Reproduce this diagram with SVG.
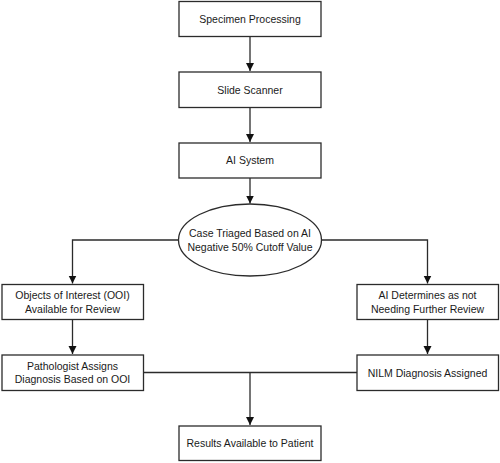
<svg xmlns="http://www.w3.org/2000/svg" width="500" height="463" viewBox="0 0 500 463">
<style>
.box{fill:#fff;stroke:#2b2b2b;stroke-width:1.3}
.t{font-family:"Liberation Sans",Arial,sans-serif;font-size:10.5px;fill:#1a1a1a;text-anchor:middle}
.c{fill:none;stroke:#2b2b2b;stroke-width:1.3}
</style>
<defs>
<marker id="ah" markerUnits="userSpaceOnUse" markerWidth="9" markerHeight="9" refX="8" refY="4" orient="auto">
<path d="M0,0 L8,4 L0,8 Z" fill="#111"/>
</marker>
</defs>
<rect width="500" height="463" fill="#fff"/>
<g id="connectors">
<path class="c" d="M250,37 V71" marker-end="url(#ah)"/>
<path class="c" d="M250,108 V142" marker-end="url(#ah)"/>
<path class="c" d="M250,178 V203.5" marker-end="url(#ah)"/>
<path class="c" d="M178.5,240 H72.5 V283.5" marker-end="url(#ah)"/>
<path class="c" d="M321.5,240 H427.5 V283.5" marker-end="url(#ah)"/>
<path class="c" d="M72.5,320 V354" marker-end="url(#ah)"/>
<path class="c" d="M427.5,320 V354" marker-end="url(#ah)"/>
<path class="c" d="M143.5,372.5 H357"/>
<path class="c" d="M250,372.5 V425" marker-end="url(#ah)"/>
</g>
<g id="specimen">
<rect class="box" x="179" y="1.5" width="142" height="35"/>
<text class="t" x="250" y="22.8">Specimen Processing</text>
</g>
<g id="scanner">
<rect class="box" x="179" y="72" width="142" height="35.5"/>
<text class="t" x="250" y="93.6">Slide Scanner</text>
</g>
<g id="ai">
<rect class="box" x="179" y="143" width="142" height="35"/>
<text class="t" x="250" y="164.3">AI System</text>
</g>
<g id="triage">
<ellipse class="box" cx="250" cy="240" rx="71.5" ry="36"/>
<text class="t" x="250" y="237">Case Triaged Based on AI</text>
<text class="t" x="250" y="250.5">Negative 50% Cutoff Value</text>
</g>
<g id="ooi">
<rect class="box" x="2" y="284.5" width="141.5" height="35"/>
<text class="t" x="72.5" y="298.8">Objects of Interest (OOI)</text>
<text class="t" x="72.5" y="312.5">Available for Review</text>
</g>
<g id="notreview">
<rect class="box" x="357" y="284.5" width="141.5" height="35"/>
<text class="t" x="427.5" y="298.8">AI Determines as not</text>
<text class="t" x="427.5" y="312.5">Needing Further Review</text>
</g>
<g id="pathologist">
<rect class="box" x="2" y="355" width="141.5" height="35.5"/>
<text class="t" x="72.5" y="369.5">Pathologist Assigns</text>
<text class="t" x="72.5" y="383.2">Diagnosis Based on OOI</text>
</g>
<g id="nilm">
<rect class="box" x="357" y="355" width="141.5" height="35.5"/>
<text class="t" x="427.5" y="376.5">NILM Diagnosis Assigned</text>
</g>
<g id="results">
<rect class="box" x="179" y="426" width="142" height="34.5"/>
<text class="t" x="250" y="447">Results Available to Patient</text>
</g>
</svg>
